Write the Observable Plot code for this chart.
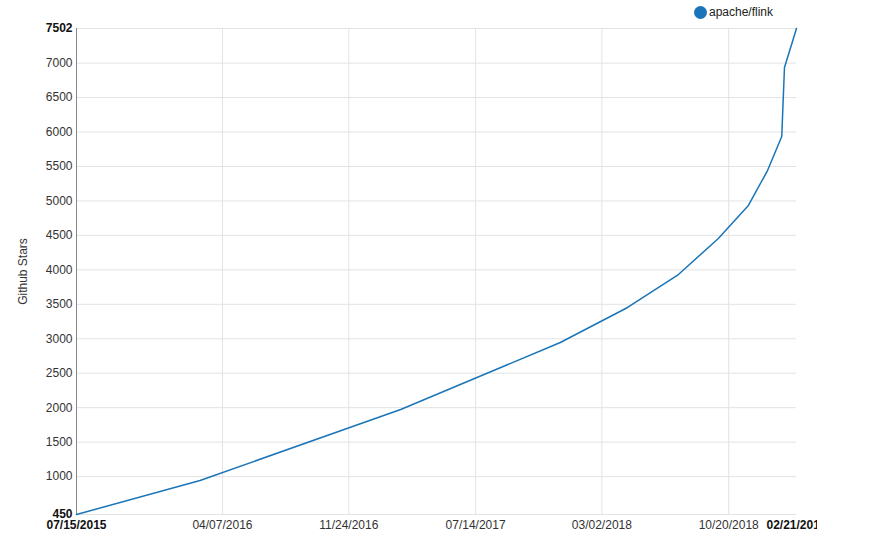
<!DOCTYPE html>
<html>
<head>
<meta charset="utf-8">
<script src="https://cdn.jsdelivr.net/npm/d3@7"></script>
<script src="https://cdn.jsdelivr.net/npm/@observablehq/plot@0.6"></script>
<style>
  html, body { margin: 0; padding: 0; background: #fff; }
  #wrap { position: relative; width: 879px; height: 550px; font-family: "Liberation Sans", Arial, sans-serif; }
  #legend { position: absolute; left: 694px; top: 5px; display: flex; align-items: center; font-size: 12px; color: #222; }
  #legend .dot { width: 13px; height: 13px; border-radius: 50%; background: #1a75b8; margin-right: 2px; }
</style>
</head>
<body>
<div id="wrap">
  <div id="chart"></div>
  <div id="legend"><span class="dot"></span><span>apache/flink</span></div>
</div>
<script>
const seriesName = "apache/flink";
const dates = ["2015-07-15","2016-02-26","2017-02-27","2017-12-16","2018-04-18","2018-07-20","2018-10-01","2018-11-25","2018-12-30","2019-01-25","2019-01-30","2019-02-21"];
const stars = [450, 943, 1974, 2946, 3454, 3932, 4455, 4934, 5441, 5935, 6936, 7502];
const xTickDates = ["2016-04-07","2016-11-24","2017-07-14","2018-03-02","2018-10-20"];
const xEndDates = ["2015-07-15","2019-02-21"];
const yTicks = [1000,1500,2000,2500,3000,3500,4000,4500,5000,5500,6000,6500,7000];
const yEnds = [450, 7502];
const yLabel = "Github Stars";

const parse = d3.utcParse("%Y-%m-%d");
const fmt = d3.utcFormat("%m/%d/%Y");
const yfmt = d => String(d);
const data = dates.map((d, i) => ({date: parse(d), stars: stars[i]}));
const xt = xTickDates.map(parse);
const xe = xEndDates.map(parse);

const chart = Plot.plot({
  width: 817,
  height: 550,
  marginLeft: 76,
  marginRight: 21,
  marginTop: 28,
  marginBottom: 36,
  style: {fontFamily: "Liberation Sans, Arial, sans-serif", fontSize: "12px", color: "#333", overflow: "hidden", background: "#fff"},
  x: {type: "utc", domain: xe},
  y: {domain: yEnds},
  marks: [
    Plot.gridY([...yTicks, ...yEnds], {stroke: "#e3e3e3", strokeOpacity: 1}),
    Plot.gridX(xt, {stroke: "#e3e3e3", strokeOpacity: 1}),
    Plot.frame({anchor: "left", stroke: "#888"}),
    Plot.line(data, {x: "date", y: "stars", stroke: "#1a75b8", strokeWidth: 1.5}),
    Plot.axisY(yTicks, {tickSize: 0, tickPadding: 4, fill: "#333", tickFormat: yfmt, label: yLabel, labelAnchor: "center", labelArrow: "none", labelOffset: 58}),
    Plot.axisY(yEnds, {tickSize: 0, tickPadding: 4, fill: "#111", fontWeight: "bold", tickFormat: yfmt, label: null}),
    Plot.axisX(xt, {tickSize: 0, tickPadding: 6, fill: "#333", tickFormat: fmt, label: null}),
    Plot.axisX(xe, {tickSize: 0, tickPadding: 6, fill: "#111", fontWeight: "bold", tickFormat: fmt, label: null})
  ]
});
document.getElementById("chart").appendChild(chart);
</script>
</body>
</html>
